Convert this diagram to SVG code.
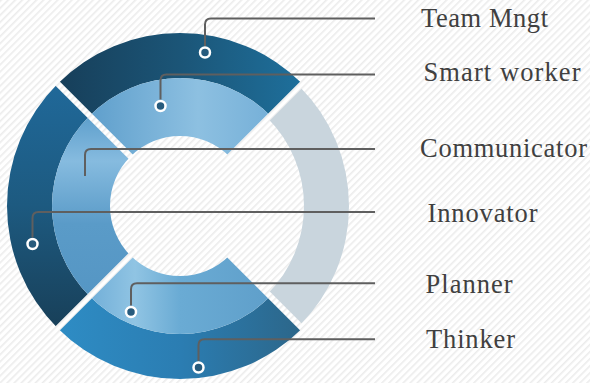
<svg xmlns="http://www.w3.org/2000/svg" width="590" height="383" viewBox="0 0 590 383">
<defs>
<pattern id="stripes" width="5" height="5" patternUnits="userSpaceOnUse" patternTransform="rotate(45)">
<rect x="0" y="0" width="1.6" height="5" fill="#ececec"/>
</pattern>
<mask id="gaps" maskUnits="userSpaceOnUse" x="0" y="0" width="590" height="383">
<rect x="0" y="0" width="590" height="383" fill="#fff"/>
<line x1="-10" y1="16" x2="420" y2="446" stroke="#000" stroke-width="6"/>
<line x1="-10" y1="396" x2="400" y2="-14" stroke="#000" stroke-width="6"/>
</mask>
<linearGradient id="gTop" gradientUnits="userSpaceOnUse" x1="60" y1="0" x2="300" y2="0">
<stop offset="0" stop-color="#173f5a"/>
<stop offset="0.5" stop-color="#1b5577"/>
<stop offset="1" stop-color="#1e6f9b"/>
</linearGradient>
<linearGradient id="gLeft" gradientUnits="userSpaceOnUse" x1="0" y1="80" x2="0" y2="330">
<stop offset="0" stop-color="#20699a"/>
<stop offset="0.5" stop-color="#1d5a80"/>
<stop offset="1" stop-color="#183f58"/>
</linearGradient>
<linearGradient id="gBottom" gradientUnits="userSpaceOnUse" x1="60" y1="0" x2="302" y2="0">
<stop offset="0" stop-color="#2e8cc4"/>
<stop offset="0.5" stop-color="#2b7db2"/>
<stop offset="1" stop-color="#2c6689"/>
</linearGradient>
<linearGradient id="gTopL" gradientUnits="userSpaceOnUse" x1="90" y1="0" x2="270" y2="0">
<stop offset="0" stop-color="#5f9fcc"/>
<stop offset="0.6" stop-color="#8dc0e1"/>
<stop offset="1" stop-color="#76b0d8"/>
</linearGradient>
<linearGradient id="gLeftL" gradientUnits="userSpaceOnUse" x1="0" y1="116" x2="0" y2="296">
<stop offset="0" stop-color="#5e9fcc"/>
<stop offset="0.25" stop-color="#86bbdf"/>
<stop offset="0.6" stop-color="#5a9bc8"/>
<stop offset="1" stop-color="#5596c4"/>
</linearGradient>
<linearGradient id="gBotL" gradientUnits="userSpaceOnUse" x1="90" y1="0" x2="270" y2="0">
<stop offset="0" stop-color="#72afd8"/>
<stop offset="0.25" stop-color="#90c4e3"/>
<stop offset="0.5" stop-color="#6aabd4"/>
<stop offset="1" stop-color="#5f9fca"/>
</linearGradient>
<style>
.seg{mask:url(#gaps);}
.mk{fill:#275b7d;stroke:#ffffff;stroke-width:2.5;}
.lbl{font-family:"Liberation Serif","DejaVu Serif",serif;font-size:26.5px;fill:#404040;}
.con{fill:none;stroke:#5f5f5f;stroke-width:2;}
</style>
</defs>
<rect x="0" y="0" width="590" height="383" fill="#ffffff"/>
<rect x="0" y="0" width="590" height="383" fill="url(#stripes)"/>

<g id="node-grey">
<path class="seg" d="M299.5,86.5 A169,169 0 0 1 299.5,325.5 L267.68,293.68 A124,124 0 0 0 267.68,118.32 Z" fill="#c9d5dd"/>
</g>

<g id="node-team-mngt">
<path class="seg" d="M57.67,83.67 A173,173 0 0 1 302.33,83.67 L270.8,116.2 A127,127 0 0 0 89.2,116.2 Z" fill="url(#gTop)"/>
<circle class="mk" cx="205" cy="52.5" r="5"/>
<text class="lbl" x="421" y="26.7" textLength="127" lengthAdjust="spacing">Team Mngt</text>
</g>

<g id="node-innovator">
<path class="seg" d="M57.67,328.33 A173,173 0 0 1 57.67,83.67 L89.2,116.2 A127,127 0 0 0 89.2,295.8 Z" fill="url(#gLeft)"/>
<circle class="mk" cx="32.5" cy="244" r="5"/>
<text class="lbl" x="427.5" y="221.5" textLength="110" lengthAdjust="spacing">Innovator</text>
</g>

<g id="node-thinker">
<path class="seg" d="M302.33,328.33 A173,173 0 0 1 57.67,328.33 L89.2,295.8 A127,127 0 0 0 270.8,295.8 Z" fill="url(#gBottom)"/>
<circle class="mk" cx="198.5" cy="367.5" r="5"/>
<text class="lbl" x="426" y="348.3" textLength="89" lengthAdjust="spacing">Thinker</text>
</g>

<g id="node-smart-worker">
<path class="seg" d="M89.2,116.2 A127,127 0 0 1 270.8,116.2 L229.5,156.5 A70,70 0 0 0 130.5,156.5 Z" fill="url(#gTopL)"/>
<circle class="mk" cx="160.5" cy="106" r="5"/>
<text class="lbl" x="423.5" y="81" textLength="157" lengthAdjust="spacing">Smart worker</text>
</g>

<g id="node-communicator">
<path class="seg" d="M89.2,295.8 A127,127 0 0 1 89.2,116.2 L130.5,156.5 A70,70 0 0 0 130.5,255.5 Z" fill="url(#gLeftL)"/>
<text class="lbl" x="420" y="156.5" textLength="167" lengthAdjust="spacing">Communicator</text>
</g>

<g id="node-planner">
<path class="seg" d="M270.8,295.8 A127,127 0 0 1 89.2,295.8 L130.5,255.5 A70,70 0 0 0 229.5,255.5 Z" fill="url(#gBotL)"/>
<circle class="mk" cx="131" cy="312" r="5"/>
<text class="lbl" x="425.5" y="292.7" textLength="87" lengthAdjust="spacing">Planner</text>
</g>

<g id="connectors">
<path class="con" d="M205,46 V24.5 Q205,18.5 211,18.5 H375"/>
<path class="con" d="M160.5,99.5 V80.5 Q160.5,74.5 166.5,74.5 H375"/>
<path class="con" d="M85,176 V155 Q85,149 91,149 H375"/>
<path class="con" d="M32.5,237.5 V218 Q32.5,212 38.5,212 H375"/>
<path class="con" d="M131,305.5 V289.3 Q131,283.3 137,283.3 H375"/>
<path class="con" d="M198.5,361 V345.3 Q198.5,339.3 204.5,339.3 H375"/>
</g>
</svg>
